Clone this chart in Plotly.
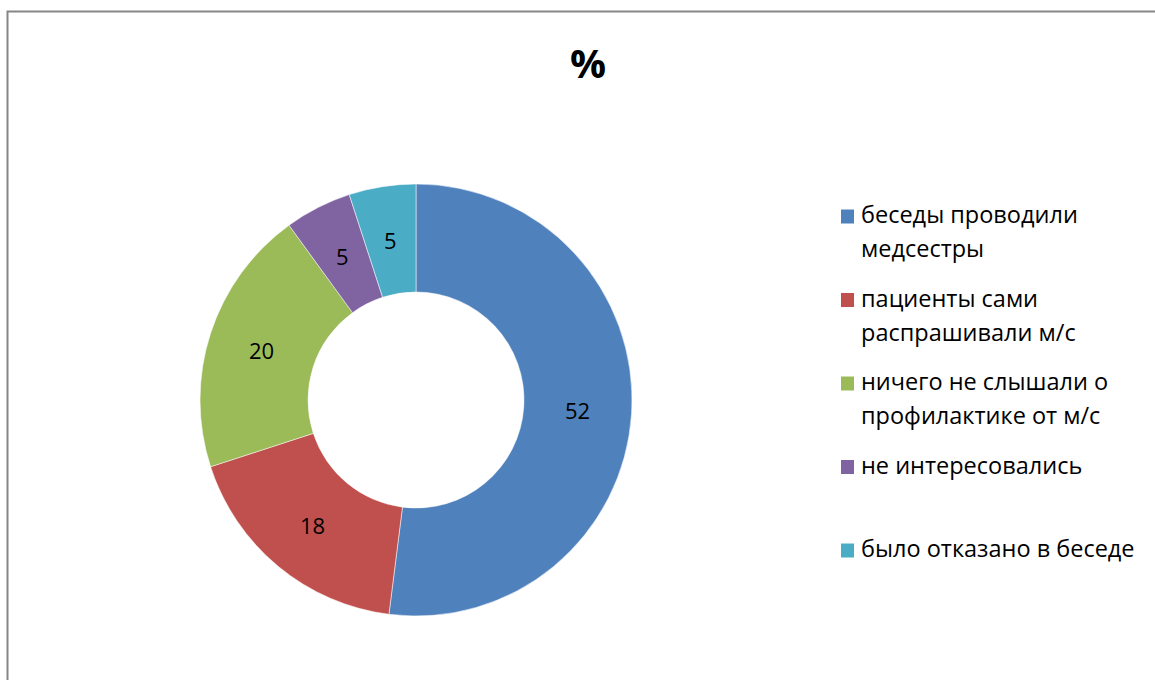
import math
import plotly.graph_objects as go

categories = [
    "беседы проводили<br>медсестры",
    "пациенты сами<br>распрашивали м/с",
    "ничего не слышали о<br>профилактике от м/с",
    "не интересовались",
    "было отказано в беседе",
]
values = [52, 18, 20, 5, 5]
colors = ["#4F81BD", "#C0504D", "#9BBB59", "#8064A2", "#4BACC6"]
title_text = "%"

W, H = 1155, 680
FONT = "Open Sans"

def px(x):
    return x / W

def py(y):
    return 1 - y / H

# pie geometry (pixels)
cx, cy, R = 416, 400, 216
HOLE = 0.5

fig = go.Figure(go.Pie(
    labels=categories,
    values=values,
    marker=dict(colors=colors, line=dict(color="rgba(255,255,255,0.5)", width=1)),
    hole=HOLE,
    sort=False,
    direction="clockwise",
    rotation=0,
    textinfo="none",
    domain=dict(x=[px(cx - R), px(cx + R)], y=[py(cy + R), py(cy - R)]),
    showlegend=False,
    hoverinfo="label+value",
))

shapes = [
    dict(type="rect", xref="paper", yref="paper",
         x0=px(7.5), x1=1.05, y0=-0.05, y1=py(11.5),
         line=dict(color="#868686", width=2), fillcolor="rgba(0,0,0,0)", layer="below"),
]
annotations = [
    dict(text="<b>%s</b>" % title_text, x=px(588), y=py(62), xref="paper", yref="paper",
         xanchor="center", yanchor="middle", showarrow=False,
         font=dict(family=FONT, size=40, color="black")),
]

# data labels at the middle of the ring, at each slice's mid-angle
total = sum(values)
cum = 0
r_mid = R * (1 + HOLE) / 2
for v in values:
    ang = 2 * math.pi * (cum + v / 2) / total
    cum += v
    lx = cx + r_mid * math.sin(ang)
    ly = cy - r_mid * math.cos(ang)
    annotations.append(dict(text=str(v), x=px(lx), y=py(ly), xref="paper", yref="paper",
                            xanchor="center", yanchor="middle", showarrow=False,
                            font=dict(family=FONT, size=22, color="black")))

# custom legend
item_y0 = 216
item_step = 83.5
line_step = 34
for i, (lab, col) in enumerate(zip(categories, colors)):
    y = item_y0 + i * item_step
    shapes.append(dict(type="rect", xref="paper", yref="paper",
                       x0=px(841), x1=px(854), y0=py(y + 7.5), y1=py(y - 6.5),
                       line=dict(width=0), fillcolor=col))
    for j, line in enumerate(lab.split("<br>")):
        annotations.append(dict(text=line, x=px(859), y=py(y + j * line_step - 2),
                                xref="paper", yref="paper", xanchor="left", yanchor="middle",
                                showarrow=False,
                                font=dict(family=FONT, size=23.5, color="black")))

fig.update_layout(
    width=W, height=H,
    margin=dict(l=0, r=0, t=0, b=0),
    paper_bgcolor="white",
    plot_bgcolor="white",
    shapes=shapes,
    annotations=annotations,
    font=dict(family=FONT),
)

fig.write_html("out.html", config={"displayModeBar": False},
               post_script="document.body.style.margin='0';")
